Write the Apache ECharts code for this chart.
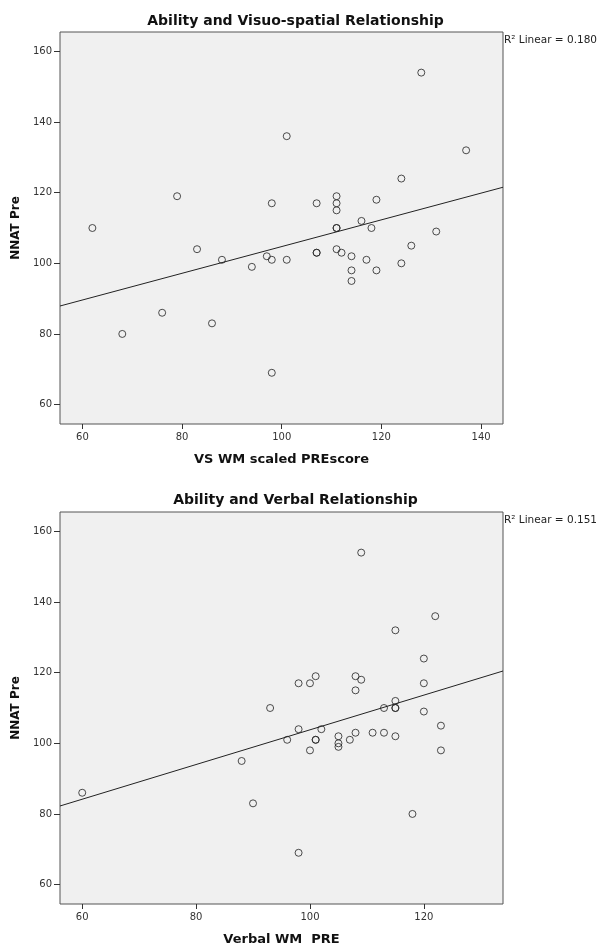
<!DOCTYPE html>
<html>
<head>
<meta charset="utf-8">
<script src="https://cdn.jsdelivr.net/npm/echarts@6/dist/echarts.min.js"></script>
<style>
  html, body { margin: 0; padding: 0; background: #ffffff; }
  #chart { width: 598px; height: 947px; }
</style>
</head>
<body>
<div id="chart"></div>
<script>
// ---- Data ----
const vsX = [62, 68, 76, 79, 83, 86, 88, 94, 97, 98, 98, 98, 101, 101, 107, 107, 107,
             111, 111, 111, 111, 111, 111, 112, 114, 114, 114, 116, 117, 118, 119, 119,
             124, 124, 126, 128, 131, 137];
const vsY = [110, 80, 86, 119, 104, 83, 101, 99, 102, 117, 101, 69, 101, 136, 117, 103, 103,
             119, 117, 115, 110, 110, 104, 103, 102, 98, 95, 112, 101, 110, 118, 98,
             100, 124, 105, 154, 109, 132];

const verbalX = [60, 88, 90, 93, 96, 98, 98, 98, 100, 100, 101, 101, 101, 102, 105, 105, 105,
                 107, 108, 108, 108, 109, 109, 111, 113, 113, 115, 115, 115, 115, 115, 118,
                 120, 120, 120, 122, 123, 123];
const verbalY = [86, 95, 83, 110, 101, 104, 69, 117, 98, 117, 101, 101, 119, 104, 102, 100, 99,
                 101, 103, 119, 115, 154, 118, 103, 110, 103, 112, 110, 110, 102, 132, 80,
                 109, 124, 117, 136, 105, 98];

const titles = ['Ability and Visuo-spatial Relationship', 'Ability and Verbal Relationship'];
const xNames = ['VS WM scaled PREscore', 'Verbal WM  PRE'];
const yName = 'NNAT Pre';
const r2Labels = ['R\u00B2 Linear = 0.180', 'R\u00B2 Linear = 0.151'];

const xTicksTop = [60, 80, 100, 120, 140];
const xTicksBottom = [60, 80, 100, 120];
const yTicks = [60, 80, 100, 120, 140, 160];

const xRangeTop = [55.5, 144.4];
const xRangeBottom = [56.1, 133.9];
const yRange = [54.5, 165.5];

// ---- helpers ----
function pairs(xs, ys) { return xs.map((x, i) => [x, ys[i]]); }
function fitLine(xs, ys, range) {
  const n = xs.length;
  let sx = 0, sy = 0;
  for (let i = 0; i < n; i++) { sx += xs[i]; sy += ys[i]; }
  const mx = sx / n, my = sy / n;
  let sxy = 0, sxx = 0;
  for (let i = 0; i < n; i++) { sxy += (xs[i] - mx) * (ys[i] - my); sxx += (xs[i] - mx) * (xs[i] - mx); }
  const b = sxy / sxx, a = my - b * mx;
  return [[range[0], a + b * range[0]], [range[1], a + b * range[1]]];
}

const FONT = 'DejaVu Sans';
const GRID_L = 60, GRID_W = 443, GRID_H = 392;
const GRID_TOPS = [32, 512];

function makeX(idx, range, ticks, name) {
  return {
    gridIndex: idx, type: 'value', min: range[0], max: range[1],
    axisLine: { show: false },
    axisTick: { show: true, customValues: ticks, length: 5, inside: false, lineStyle: { color: '#333', width: 1 } },
    axisLabel: { customValues: ticks, fontSize: 10, fontFamily: FONT, color: '#333', margin: 8 },
    splitLine: { show: false },
    name: name, nameLocation: 'middle', nameGap: 29,
    nameTextStyle: { fontFamily: FONT, fontWeight: 'bold', fontSize: 13, color: '#111' }
  };
}
function makeY(idx) {
  return {
    gridIndex: idx, type: 'value', min: yRange[0], max: yRange[1],
    axisLine: { show: false },
    axisTick: { show: true, customValues: yTicks, length: 6, lineStyle: { color: '#333', width: 1 } },
    axisLabel: { customValues: yTicks, fontSize: 10, fontFamily: FONT, color: '#333', margin: 8 },
    splitLine: { show: false },
    name: yName, nameLocation: 'middle', nameGap: 34,
    nameTextStyle: { fontFamily: FONT, fontWeight: 'bold', fontSize: 12, color: '#111' }
  };
}
function scatter(idx, data) {
  return {
    type: 'scatter', xAxisIndex: idx, yAxisIndex: idx, data: data,
    symbol: 'circle', symbolSize: 7,
    itemStyle: { color: 'rgba(0,0,0,0)', borderColor: '#222', borderWidth: 1 },
    emphasis: { disabled: true }, z: 3
  };
}
function line(idx, data) {
  return {
    type: 'line', xAxisIndex: idx, yAxisIndex: idx, data: data,
    showSymbol: false, symbol: 'none', clip: true,
    lineStyle: { color: '#222', width: 1 },
    emphasis: { disabled: true }, z: 2
  };
}

const chart = echarts.init(document.getElementById('chart'), null, { renderer: 'canvas' });
chart.setOption({
  animation: false,
  backgroundColor: '#ffffff',
  grid: GRID_TOPS.map(t => ({
    left: GRID_L, top: t, width: GRID_W, height: GRID_H, show: true,
    backgroundColor: '#f0f0f0', borderColor: '#555', borderWidth: 1, containLabel: false
  })),
  xAxis: [makeX(0, xRangeTop, xTicksTop, xNames[0]), makeX(1, xRangeBottom, xTicksBottom, xNames[1])],
  yAxis: [makeY(0), makeY(1)],
  series: [
    scatter(0, pairs(vsX, vsY)),
    line(0, fitLine(vsX, vsY, xRangeTop)),
    scatter(1, pairs(verbalX, verbalY)),
    line(1, fitLine(verbalX, verbalY, xRangeBottom))
  ],
  graphic: [
    { type: 'text', x: 295.5, y: 21, style: { text: titles[0], align: 'center', verticalAlign: 'middle', font: 'bold 14px "DejaVu Sans"', fill: '#111' } },
    { type: 'text', x: 295.5, y: 500, style: { text: titles[1], align: 'center', verticalAlign: 'middle', font: 'bold 14px "DejaVu Sans"', fill: '#111' } },
    { type: 'text', x: 504, y: 40, style: { text: r2Labels[0], align: 'left', verticalAlign: 'middle', font: '10.5px "DejaVu Sans"', fill: '#222' } },
    { type: 'text', x: 504, y: 520, style: { text: r2Labels[1], align: 'left', verticalAlign: 'middle', font: '10.5px "DejaVu Sans"', fill: '#222' } }
  ]
});
</script>
</body>
</html>
